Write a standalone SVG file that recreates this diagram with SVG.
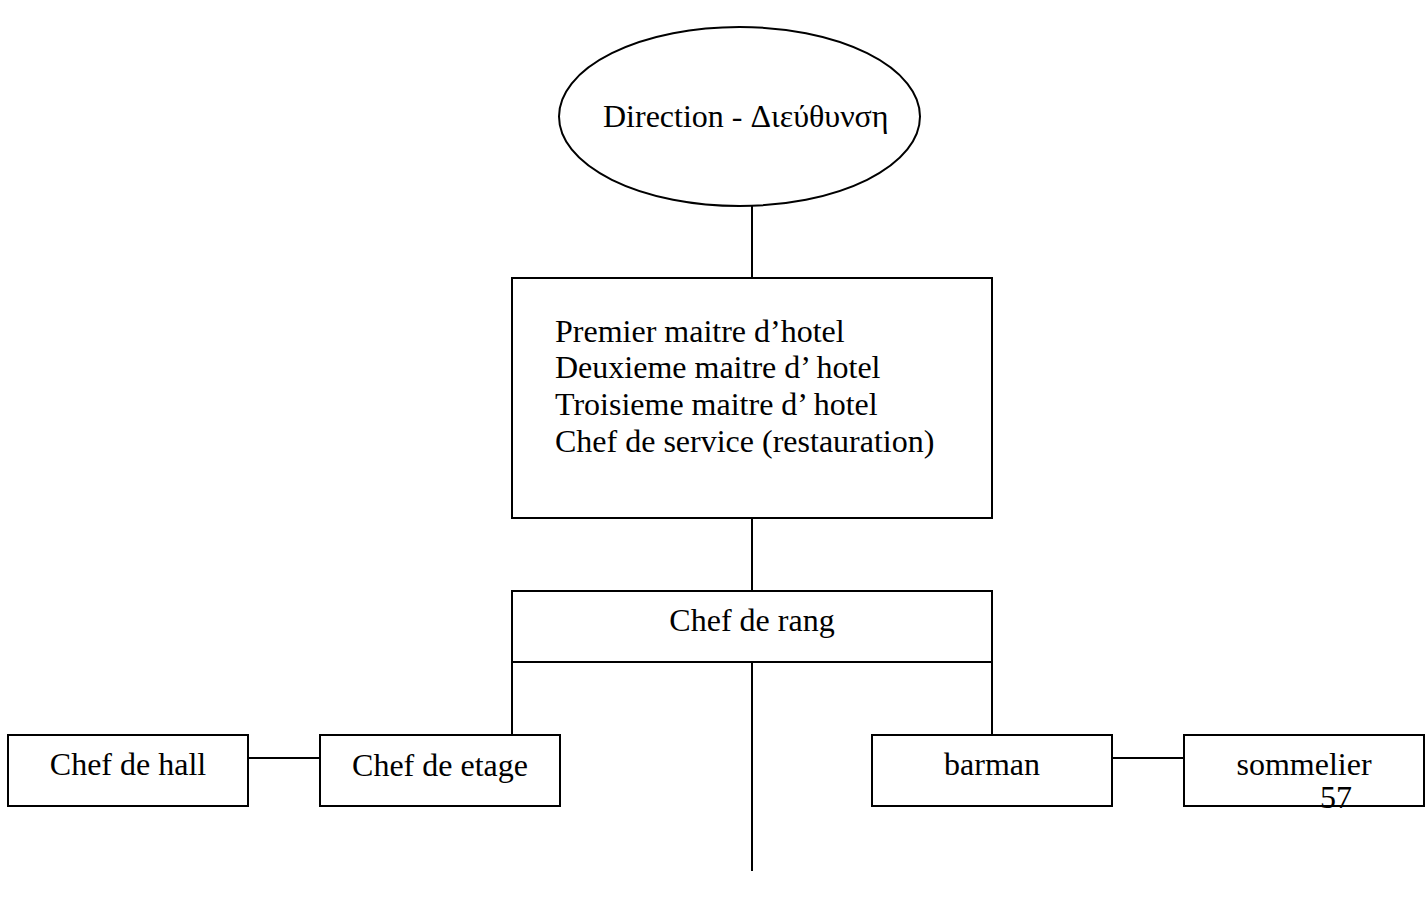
<svg xmlns="http://www.w3.org/2000/svg" width="1426" height="899" viewBox="0 0 1426 899">
<style>
.s{fill:#fff;stroke:#000;stroke-width:2}
.c{stroke:#000;stroke-width:2;fill:none}
text{font-family:"Liberation Serif","DejaVu Serif",serif;font-size:32px;fill:#000}
.m{text-anchor:middle}
</style>
<rect width="1426" height="899" fill="#fff"/>
<g id="connectors">
<line class="c" x1="752" y1="206" x2="752" y2="278"/>
<line class="c" x1="752" y1="518" x2="752" y2="591"/>
<line class="c" x1="752" y1="662" x2="752" y2="871"/>
<line class="c" x1="512" y1="662" x2="512" y2="735"/>
<line class="c" x1="992" y1="662" x2="992" y2="735"/>
<line class="c" x1="248" y1="758" x2="320" y2="758"/>
<line class="c" x1="1112" y1="758" x2="1184" y2="758"/>
</g>
<g id="direction">
<ellipse class="s" cx="739.5" cy="116.5" rx="180.5" ry="89.5"/>
<text x="603" y="127">Direction - Διεύθυνση</text>
</g>
<g id="maitres">
<rect class="s" x="512" y="278" width="480" height="240"/>
<text x="555" y="341.5">Premier maitre d’hotel</text>
<text x="555" y="378.3">Deuxieme maitre d’ hotel</text>
<text x="555" y="415">Troisieme maitre d’ hotel</text>
<text x="555" y="451.7">Chef de service (restauration)</text>
</g>
<g id="chef-de-rang">
<rect class="s" x="512" y="591" width="480" height="71"/>
<text class="m" x="752" y="631">Chef de rang</text>
</g>
<g id="chef-de-hall">
<rect class="s" x="8" y="735" width="240" height="71"/>
<text class="m" x="128" y="775">Chef de hall</text>
</g>
<g id="chef-de-etage">
<rect class="s" x="320" y="735" width="240" height="71"/>
<text class="m" x="440" y="776">Chef de etage</text>
</g>
<g id="barman">
<rect class="s" x="872" y="735" width="240" height="71"/>
<text class="m" x="992" y="775">barman</text>
</g>
<g id="sommelier">
<rect class="s" x="1184" y="735" width="240" height="71"/>
<text class="m" x="1304" y="775">sommelier</text>
</g>
<text x="1320" y="808">57</text>
</svg>
